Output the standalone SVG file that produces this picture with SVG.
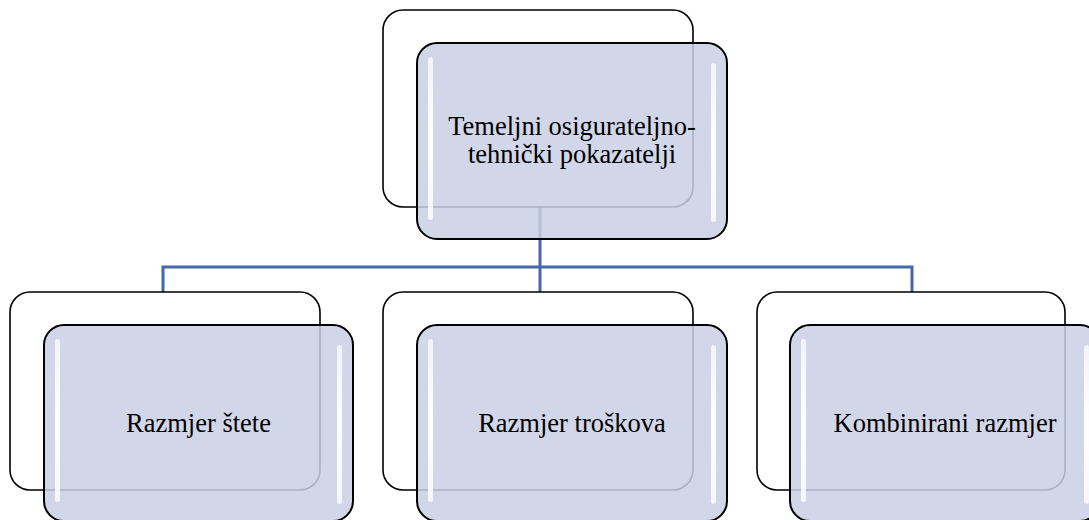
<svg xmlns="http://www.w3.org/2000/svg" width="1089" height="520" viewBox="0 0 1089 520">
  <defs>
    <style>
      .back { fill: #ffffff; stroke: #000000; stroke-width: 1.6; }
      .front { fill: #c9cfe4; fill-opacity: 0.85; stroke: #000000; stroke-width: 2; }
      .hl { fill: url(#hlGrad); }
      .conn { fill: none; stroke: #4468a8; stroke-width: 3; }
      .lbl { font-size: 26.5px; fill: #000000; text-anchor: middle; }
    </style>
    <linearGradient id="hlGrad" x1="0" y1="0" x2="0" y2="1">
      <stop offset="0" stop-color="#ffffff" stop-opacity="0.7"/>
      <stop offset="0.5" stop-color="#ffffff" stop-opacity="1"/>
      <stop offset="1" stop-color="#ffffff" stop-opacity="0.8"/>
    </linearGradient>
  </defs>

  <g id="connectors">
    <path class="conn" d="M540,207 V292"/>
    <path class="conn" d="M163,292 V267 H912 V292"/>
  </g>

  <g id="node-top">
    <rect class="back" x="383" y="10" width="310" height="197" rx="20"/>
    <rect class="front" x="417" y="43" width="310" height="196" rx="20"/>
    <rect class="hl" x="428" y="57" width="5" height="163" rx="2.5"/>
    <rect class="hl" x="711" y="63" width="5" height="159" rx="2.5"/>
    <text class="lbl" font-family="'Liberation Serif', 'Times New Roman', serif" x="572" y="135">Temeljni osigurateljno-</text>
    <text class="lbl" font-family="'Liberation Serif', 'Times New Roman', serif" x="572" y="163">tehnički pokazatelji</text>
  </g>

  <g id="node-steta">
    <rect class="back" x="10" y="292" width="310" height="198" rx="20"/>
    <rect class="front" x="44" y="325" width="309" height="196" rx="20"/>
    <rect class="hl" x="55" y="339" width="5" height="163" rx="2.5"/>
    <rect class="hl" x="337" y="345" width="5" height="159" rx="2.5"/>
    <text class="lbl" font-family="'Liberation Serif', 'Times New Roman', serif" x="198.5" y="432">Razmjer štete</text>
  </g>

  <g id="node-troskovi">
    <rect class="back" x="383" y="292" width="310" height="198" rx="20"/>
    <rect class="front" x="417" y="325" width="310" height="196" rx="20"/>
    <rect class="hl" x="428" y="339" width="5" height="163" rx="2.5"/>
    <rect class="hl" x="711" y="345" width="5" height="159" rx="2.5"/>
    <text class="lbl" font-family="'Liberation Serif', 'Times New Roman', serif" x="572" y="432">Razmjer troškova</text>
  </g>

  <g id="node-kombinirani">
    <rect class="back" x="757" y="292" width="308" height="198" rx="20"/>
    <rect class="front" x="790" y="325" width="310" height="196" rx="20"/>
    <rect class="hl" x="801" y="339" width="5" height="163" rx="2.5"/>
    <rect class="hl" x="1084" y="345" width="5" height="159" rx="2.5"/>
    <text class="lbl" font-family="'Liberation Serif', 'Times New Roman', serif" x="945" y="432">Kombinirani razmjer</text>
  </g>
</svg>
